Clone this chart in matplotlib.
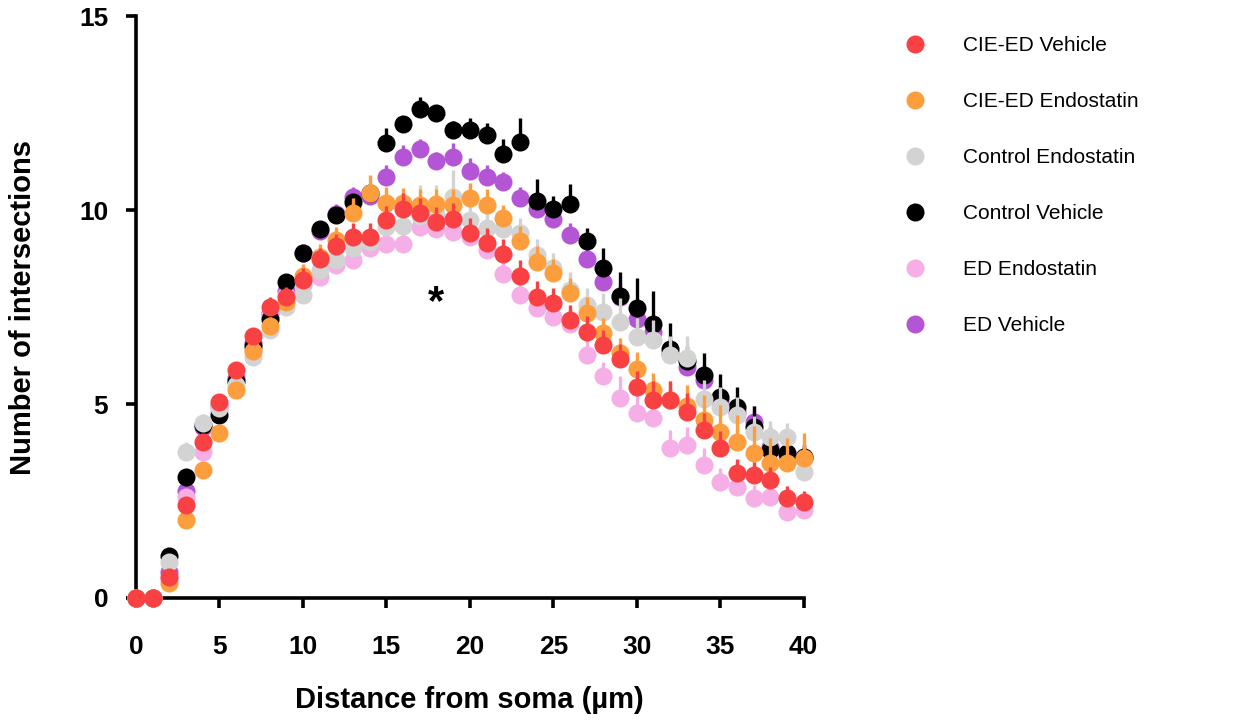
import matplotlib.pyplot as plt
import numpy as np
from matplotlib.lines import Line2D

plt.rcParams['font.family'] = ['Liberation Sans', 'DejaVu Sans']

# radius from soma (um)
radius = np.arange(0, 41)

labels = ['CIE-ED Vehicle', 'CIE-ED Endostatin', 'Control Endostatin',
          'Control Vehicle', 'ED Endostatin', 'ED Vehicle']
colors = ['#f94144', '#fd9e3e', '#d3d3d3', '#000000', '#f6aee6', '#b455d6']

cie_veh = [0, 0, 0.55, 2.4, 4.03, 5.06, 5.88, 6.75, 7.5, 7.77, 8.2, 8.73, 9.07, 9.31,
           9.31, 9.74, 10.03, 9.91, 9.68, 9.77, 9.42, 9.14, 8.86, 8.3, 7.77, 7.6, 7.16,
           6.86, 6.52, 6.15, 5.45, 5.1, 5.1, 4.8, 4.33, 3.86, 3.21, 3.17, 3.04, 2.57, 2.48]
cie_veh_err = [0, 0, 0.15, 0.2, 0.2, 0.2, 0.2, 0.2, 0.25, 0.25, 0.3, 0.3, 0.3, 0.36,
               0.35, 0.36, 0.4, 0.4, 0.4, 0.4, 0.37, 0.4, 0.4, 0.4, 0.4, 0.4, 0.4,
               0.4, 0.4, 0.39, 0.4, 0.5, 0.49, 0.49, 0.45, 0.45, 0.37, 0.34, 0.34, 0.32, 0.29]

cie_endo = [0, 0, 0.38, 2.0, 3.3, 4.26, 5.36, 6.37, 7.0, 7.64, 8.3, 8.78, 9.22, 9.92,
            10.43, 10.19, 10.17, 10.13, 10.15, 10.13, 10.32, 10.13, 9.79, 9.2, 8.67, 8.38, 7.85,
            7.35, 6.82, 6.31, 5.9, 5.36, 5.1, 4.95, 4.59, 4.29, 4.03, 3.73, 3.47, 3.47, 3.6]
cie_endo_err = [0, 0, 0.1, 0.15, 0.2, 0.2, 0.2, 0.25, 0.25, 0.3, 0.3, 0.35, 0.35, 0.4,
                0.47, 0.4, 0.4, 0.4, 0.4, 0.4, 0.38, 0.4, 0.34, 0.4, 0.4, 0.35, 0.4,
                0.4, 0.4, 0.4, 0.45, 0.45, 0.5, 0.55, 0.64, 0.68, 0.69, 0.7, 0.65, 0.65, 0.64]

ctl_endo = [0, 0, 0.93, 3.77, 4.5, 4.9, 5.49, 6.22, 6.9, 7.5, 7.8, 8.45, 8.7, 9.02,
            9.18, 9.57, 9.6, 9.85, 9.9, 10.34, 9.74, 9.54, 9.5, 9.4, 8.84, 8.5, 7.95,
            7.55, 7.38, 7.12, 6.72, 6.66, 6.26, 6.19, 5.13, 4.93, 4.72, 4.29, 4.16, 4.16, 3.26]
ctl_endo_err = [0, 0, 0.15, 0.25, 0.25, 0.2, 0.2, 0.2, 0.2, 0.25, 0.25, 0.3, 0.3, 0.35,
                0.35, 0.4, 0.45, 0.8, 0.75, 0.7, 0.5, 0.4, 0.35, 0.4, 0.4, 0.4, 0.45,
                0.45, 0.48, 0.6, 0.5, 0.5, 0.5, 0.55, 0.5, 0.5, 0.45, 0.4, 0.4, 0.35, 0.35]

ctl_veh = [0, 0, 1.07, 3.12, 4.45, 4.72, 5.6, 6.5, 7.2, 8.15, 8.9, 9.5, 9.87, 10.21,
           10.43, 11.72, 12.22, 12.6, 12.49, 12.05, 12.06, 11.93, 11.44, 11.76, 10.23, 10.02, 10.15,
           9.21, 8.5, 7.78, 7.47, 7.06, 6.42, 6.1, 5.75, 5.19, 4.93, 4.4, 3.81, 3.73, 3.64]
ctl_veh_err = [0, 0, 0.15, 0.2, 0.15, 0.15, 0.15, 0.15, 0.2, 0.2, 0.2, 0.2, 0.2, 0.15,
               0.2, 0.4, 0.2, 0.32, 0.2, 0.25, 0.3, 0.3, 0.4, 0.6, 0.56, 0.34, 0.52,
               0.33, 0.53, 0.63, 0.77, 0.85, 0.67, 0.4, 0.56, 0.58, 0.51, 0.55, 0.6, 0.2, 0.3]

ed_endo = [0, 0, 0.5, 2.6, 3.77, 4.85, 5.6, 6.4, 7.3, 7.8, 8.07, 8.28, 8.58, 8.71,
           9.02, 9.12, 9.12, 9.57, 9.5, 9.44, 9.3, 8.97, 8.35, 7.81, 7.47, 7.25, 7.05,
           6.26, 5.72, 5.15, 4.76, 4.63, 3.86, 3.94, 3.43, 3.0, 2.87, 2.57, 2.61, 2.22, 2.27]
ed_endo_err = [0, 0, 0.1, 0.2, 0.2, 0.2, 0.2, 0.2, 0.2, 0.2, 0.25, 0.25, 0.25, 0.25,
               0.25, 0.3, 0.3, 0.3, 0.3, 0.3, 0.3, 0.3, 0.35, 0.35, 0.35, 0.35, 0.4,
               0.6, 0.35, 0.57, 0.5, 0.5, 0.47, 0.47, 0.43, 0.35, 0.35, 0.34, 0.3, 0.3, 0.25]

ed_veh = [0, 0, 0.67, 2.77, 4.4, 4.95, 5.67, 6.57, 7.34, 7.9, 8.9, 9.45, 9.9, 10.34,
          10.35, 10.86, 11.36, 11.56, 11.26, 11.37, 11.01, 10.85, 10.71, 10.3, 10.02, 9.77, 9.36,
          8.74, 8.15, 7.77, 7.2, 6.85, 6.3, 5.95, 5.62, 5.1, 4.8, 4.54, 3.9, 3.69, 3.62]
ed_veh_err = [0, 0, 0.1, 0.15, 0.2, 0.2, 0.2, 0.2, 0.2, 0.2, 0.2, 0.25, 0.25, 0.25,
              0.3, 0.3, 0.32, 0.26, 0.24, 0.35, 0.33, 0.3, 0.28, 0.28, 0.3, 0.3, 0.3,
              0.3, 0.3, 0.35, 0.35, 0.35, 0.35, 0.4, 0.4, 0.4, 0.4, 0.4, 0.4, 0.35, 0.35]

means = [cie_veh, cie_endo, ctl_endo, ctl_veh, ed_endo, ed_veh]
errs = [cie_veh_err, cie_endo_err, ctl_endo_err, ctl_veh_err, ed_endo_err, ed_veh_err]

fig = plt.figure(figsize=(12.55, 7.21), dpi=100)
ax = fig.add_axes([0.1084, 0.1706, 0.532, 0.8072])

# first legend entry ends up on top
for i in reversed(range(len(labels))):
    m = np.array(means[i])
    e = np.array(errs[i])
    ax.errorbar(radius, m, yerr=[np.zeros_like(e), e], fmt='o', color=colors[i],
                ms=13, mew=0, elinewidth=2.4, capsize=0, clip_on=False,
                zorder=3 + len(labels) - i)

ax.text(18, 7.6, '*', fontsize=30, fontweight='bold', ha='center', va='center')

ax.set_xlim(0, 40)
ax.set_ylim(0, 15)
ax.set_xticks(range(0, 41, 5))
ax.set_yticks([0, 5, 10, 15])
for s in ['top', 'right']:
    ax.spines[s].set_visible(False)
for s in ['left', 'bottom']:
    ax.spines[s].set_linewidth(2.6)
ax.tick_params(direction='out', length=7, width=2.6, labelsize=19)
ax.tick_params(axis='x', pad=20)
ax.tick_params(axis='y', pad=13)
for t in ax.get_xticklabels() + ax.get_yticklabels():
    t.set_fontweight('bold')

ax.set_xlabel('Distance from soma (µm)', fontsize=21, fontweight='bold', labelpad=19)
ax.set_ylabel('Number of intersections', fontsize=21, fontweight='bold', labelpad=30)

handles = [Line2D([], [], ls='none', marker='o', ms=13, mew=0, color=c) for c in colors]
fig.legend(handles, labels, loc='upper left', bbox_to_anchor=(894 / 1255, 1 - 36 / 721),
           frameon=False, fontsize=15, handlelength=2, handletextpad=1.3,
           labelspacing=1.78, borderpad=0, borderaxespad=0)

fig.savefig('out.png', dpi=100)
